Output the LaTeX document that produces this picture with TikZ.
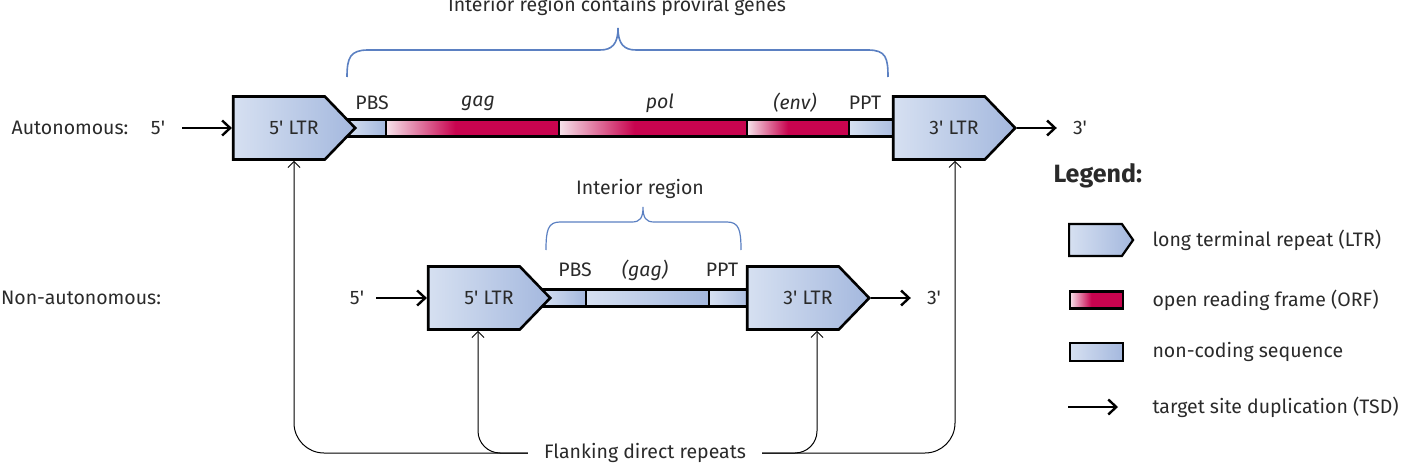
\documentclass[tikz,border=0pt]{standalone}
\usepackage{fontspec}
\setmainfont{Fira Sans}
\usetikzlibrary{arrows.meta,shapes.symbols,calc}
\definecolor{ltrL}{HTML}{D6E0F1}
\definecolor{ltrR}{HTML}{A4B8DE}
\definecolor{orfL}{HTML}{F6E2EA}
\definecolor{orfD}{HTML}{C8044F}
\definecolor{brc}{HTML}{5B80C2}
\definecolor{txt}{HTML}{2A2A2A}
\pgfdeclarehorizontalshading{orfsh}{100bp}{color(0bp)=(orfL); color(25bp)=(orfL); color(45bp)=(orfD); color(100bp)=(orfD)}
\newcommand\qq{\textquotesingle}
\newcommand\ltrtext[1]{\hspace*{30pt}#1}
\begin{document}
\begin{tikzpicture}[x=1pt,y=-1pt,
  every node/.style={font=\fontsize{19.5}{22}\selectfont, text=txt},
  ltr/.style={signal, signal to=east, signal pointer angle=92, draw=black, line width=2.6pt, left color=ltrL, right color=ltrR, minimum width=122pt, minimum height=63pt, inner sep=0pt},
  seg/.style={draw=black, line width=2.3pt, minimum height=17pt, inner sep=0pt, anchor=west},
  orf/.style={seg, shading=orfsh},
  nc/.style={seg, left color=ltrL, right color=ltrR},
  tsd/.style={line width=1.3pt, -{Straight Barb[length=8pt,width=15pt,line width=2.4pt]}},
  flank/.style={line width=1pt, rounded corners=30pt, -{Straight Barb[length=6pt,width=12pt]}},
  brace/.style={draw=brc, line width=1.6pt},
]
\useasboundingbox (0,0) rectangle (1405,465);
% autonomous
\node[nc, minimum width=40pt] (aPBS) at (345,128) {};
\node[orf, minimum width=173pt] (aGag) at (385,128) {};
\node[orf, minimum width=188pt] (aPol) at (558,128) {};
\node[orf, minimum width=102pt] (aEnv) at (746,128) {};
\node[nc, minimum width=52pt] (aPPT) at (848,128) {};
\node[ltr] (A5) at (279,128) {\ltrtext{5\qq{} LTR}};
\node[ltr] (A3) at (939,128) {\ltrtext{3\qq{} LTR}};
\node (aLab) at (70,128) {Autonomous:};
\node[inner sep=0pt] (a5p) at (158,128) {5\qq};
\node[inner sep=0pt] (a3p) at (1080,128) {3\qq};
\draw[tsd, shorten <=17pt] (a5p.east) -- (A5.west);
\draw[tsd, shorten >=16pt] (A3.east) -- (a3p.west);
\node at (372,103) {PBS};
\node at (478,103) {\itshape gag};
\node at (660,103) {\itshape pol};
\node at (795,103) {\itshape (env)};
\node at (865,103) {PPT};
\draw[brace] (347,77) .. controls (347,58) and (350,50) .. (368,50) -- (600,50) .. controls (612,50) and (618,44) .. (618,28) .. controls (618,44) and (624,50) .. (636,50) -- (868,50) .. controls (886,50) and (888,58) .. (888,77);
\node[anchor=base] (t1) at (617,12) {Interior region contains proviral genes};
% non-autonomous
\node[nc, minimum width=45pt] (nPBS) at (540,298) {};
\node[nc, minimum width=123pt] (nGag) at (585,298) {};
\node[nc, minimum width=47pt] (nPPT) at (708,298) {};
\node[ltr] (N5) at (474,298) {\ltrtext{5\qq{} LTR}};
\node[ltr] (N3) at (793,298) {\ltrtext{3\qq{} LTR}};
\node (nLab) at (81,298) {Non-autonomous:};
\node[inner sep=0pt] (n5p) at (357,298) {5\qq};
\node[inner sep=0pt] (n3p) at (934,298) {3\qq};
\draw[tsd, shorten <=12pt] (n5p.east) -- (N5.west);
\draw[tsd, shorten >=16pt] (N3.east) -- (n3p.west);
\node at (575,270) {PBS};
\node at (645,270) {\itshape (gag)};
\node at (722,270) {PPT};
\draw[brace, line width=1.2pt] (546,250) .. controls (546,230) and (548,222) .. (560,222) -- (632,222) .. controls (640,222) and (643,218) .. (643,207) .. controls (643,218) and (646,222) .. (654,222) -- (727,222) .. controls (739,222) and (741,230) .. (741,250);
\node (t2) at (640,189) {Interior region};
% flanking
\node[inner xsep=16pt] (F) at (645,453) {Flanking direct repeats};
\draw[flank] (F.west) -| ([xshift=15pt]A5.south);
\draw[flank, rounded corners=22pt] (F.west) -| ([xshift=4pt]N5.south);
\draw[flank, rounded corners=22pt] (F.east) -| ([xshift=24pt]N3.south);
\draw[flank] (F.east) -| ([xshift=16pt]A3.south);
% legend
\node[font=\bfseries\fontsize{25}{28}\selectfont, anchor=west] (Lg) at (1050,176) {Legend:};
\node[ltr, minimum width=64pt, minimum height=32pt, line width=2.2pt, signal pointer angle=110] (LgL) at (1095.5,240) {};
\node[anchor=west] (LgLt) at (1149,240) {long terminal repeat (LTR)};
\node[orf, minimum width=53pt, minimum height=17pt, line width=2.2pt] (LgO) at (1069,300) {};
\node[anchor=west] (LgOt) at (1149,300) {open reading frame (ORF)};
\node[nc, minimum width=53pt, minimum height=18pt, line width=2.2pt] (LgN) at (1069,352) {};
\node[anchor=west] (LgNt) at (1149,352) {non-coding sequence};
\coordinate (LgA1) at (1068,407);
\coordinate (LgA2) at (1118,407);
\draw[tsd] (LgA1) -- (LgA2);
\node[anchor=west] (LgAt) at (1149,407) {target site duplication (TSD)};
\end{tikzpicture}
\end{document}
